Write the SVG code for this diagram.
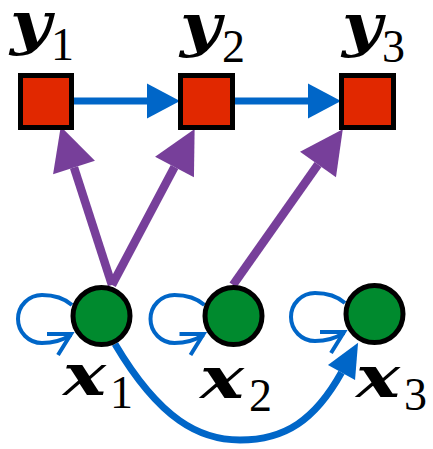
<svg xmlns="http://www.w3.org/2000/svg" width="433" height="449" viewBox="0 0 433 449">
  <style>
    .sq { fill: #e12800; stroke: #000; stroke-width: 5; }
    .ci { fill: #008a2e; stroke: #000; stroke-width: 5; }
    .var { font-family: "DejaVu Serif", "Liberation Serif", serif; font-style: italic; font-weight: bold; font-size: 58px; fill: #000; }
    .sub { font-family: "Liberation Serif", "DejaVu Serif", serif; font-size: 46px; fill: #000; }
    .blue { fill: none; stroke: #0066c8; stroke-width: 7; }
    .loop { fill: none; stroke: #0066c8; stroke-width: 4; }
    .purple { fill: none; stroke: #773f9a; stroke-width: 8.5; }
  </style>
  <defs>
    <marker id="headBlue" markerUnits="userSpaceOnUse" orient="auto" markerWidth="36" markerHeight="36" refX="0" refY="17.5" viewBox="0 0 36 36" overflow="visible">
      <path d="M0 0 L33 17.5 L0 35 Z" fill="#0066c8"/>
    </marker>
    <marker id="headBlueCurve" markerUnits="userSpaceOnUse" orient="auto" markerWidth="36" markerHeight="36" refX="0" refY="15.5" viewBox="0 0 36 36" overflow="visible">
      <path d="M0 0 L34 15.5 L0 31 Z" fill="#0066c8"/>
    </marker>
    <marker id="headPurple" markerUnits="userSpaceOnUse" orient="auto" markerWidth="46" markerHeight="46" refX="0" refY="22" viewBox="0 0 46 46" overflow="visible">
      <path d="M0 0 L43 22 L0 44 Z" fill="#773f9a"/>
    </marker>
    <!-- self-loop with open chevron head, drawn relative to the x1 node -->
    <g id="selfLoop">
      <path class="loop" d="M72 305 C 64 298, 55 295, 42 295 A 24 24 0 0 0 42 343 C 54 343, 63 340, 71 335"/>
      <path class="loop" d="M47 334 L71 334 L58 355"/>
    </g>
  </defs>

  <g id="connectors">
    <!-- chain y1 -> y2 -> y3 -->
    <line class="blue" x1="74" y1="101" x2="147" y2="101" marker-end="url(#headBlue)"/>
    <line class="blue" x1="235" y1="101" x2="308" y2="101" marker-end="url(#headBlue)"/>
    <!-- inputs to outputs -->
    <line class="purple" x1="112" y1="285" x2="74" y2="167.5" marker-end="url(#headPurple)"/>
    <line class="purple" x1="112" y1="285" x2="174.5" y2="167" marker-end="url(#headPurple)"/>
    <line class="purple" x1="233" y1="285" x2="318" y2="164.5" marker-end="url(#headPurple)"/>
    <!-- x1 -> x3 -->
    <path class="blue" d="M115 344 C 160 420, 200 440, 240 440 C 285 440, 315 420, 341.5 372.5" marker-end="url(#headBlueCurve)"/>
    <!-- self loops -->
    <use id="loop1" href="#selfLoop"/>
    <use id="loop2" href="#selfLoop" transform="translate(132.5 0)"/>
    <use id="loop3" href="#selfLoop" transform="translate(273 -2)"/>
  </g>

  <g id="y1">
    <rect class="sq" x="20.5" y="75.5" width="51" height="52"/>
    <text class="var" x="10" y="43" textLength="41" lengthAdjust="spacingAndGlyphs">y</text>
    <text class="sub" x="51" y="60">1</text>
  </g>
  <g id="y2">
    <rect class="sq" x="180.5" y="75.5" width="52" height="52"/>
    <text class="var" x="180" y="45" textLength="41" lengthAdjust="spacingAndGlyphs">y</text>
    <text class="sub" x="222" y="62">2</text>
  </g>
  <g id="y3">
    <rect class="sq" x="341.5" y="75.5" width="52" height="52"/>
    <text class="var" x="342" y="45" textLength="40" lengthAdjust="spacingAndGlyphs">y</text>
    <text class="sub" x="382" y="62">3</text>
  </g>

  <g id="x1">
    <circle class="ci" cx="101.5" cy="316" r="28.5"/>
    <text class="var" x="63" y="395" textLength="43" lengthAdjust="spacingAndGlyphs">x</text>
    <text class="sub" x="110" y="408">1</text>
  </g>
  <g id="x2">
    <circle class="ci" cx="233.5" cy="316" r="28.5"/>
    <text class="var" x="200" y="398" textLength="44" lengthAdjust="spacingAndGlyphs">x</text>
    <text class="sub" x="249" y="411">2</text>
  </g>
  <g id="x3">
    <circle class="ci" cx="374.5" cy="314" r="28.5"/>
    <text class="var" x="356" y="397" textLength="44" lengthAdjust="spacingAndGlyphs">x</text>
    <text class="sub" x="404" y="410">3</text>
  </g>
</svg>
